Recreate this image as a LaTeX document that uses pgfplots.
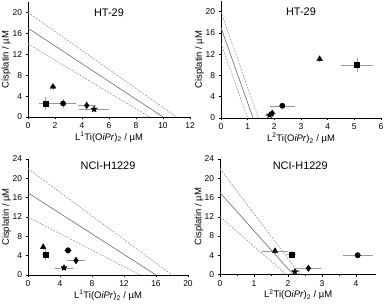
\documentclass[border=0pt]{standalone}
\usepackage{pgfplots}
\pgfplotsset{compat=1.18}
\usepackage{fontspec}
\setmainfont{Liberation Sans}
\pgfdeclareplotmark{fstar}{%
  \pgfpathmoveto{\pgfpointpolar{90}{1.3\pgfplotmarksize}}%
  \pgfpathlineto{\pgfpointpolar{126}{0.55\pgfplotmarksize}}%
  \pgfpathlineto{\pgfpointpolar{162}{1.3\pgfplotmarksize}}%
  \pgfpathlineto{\pgfpointpolar{198}{0.55\pgfplotmarksize}}%
  \pgfpathlineto{\pgfpointpolar{234}{1.3\pgfplotmarksize}}%
  \pgfpathlineto{\pgfpointpolar{270}{0.55\pgfplotmarksize}}%
  \pgfpathlineto{\pgfpointpolar{306}{1.3\pgfplotmarksize}}%
  \pgfpathlineto{\pgfpointpolar{342}{0.55\pgfplotmarksize}}%
  \pgfpathlineto{\pgfpointpolar{18}{1.3\pgfplotmarksize}}%
  \pgfpathlineto{\pgfpointpolar{54}{0.55\pgfplotmarksize}}%
  \pgfpathclose
  \pgfusepathqfillstroke}
\tikzset{ttl/.style={font=\fontsize{11}{12}\selectfont}}
\pgfplotsset{
  iso/.style={
    scale only axis,
    axis lines*=left,
    tick align=outside,
    major tick length=2.5pt,
    minor tick length=1.5pt,
    minor x tick num=1,
    ymin=0, xmin=0,
    tick style={black, line width=0.5pt},
    axis line style={black, line width=0.6pt},
    ticklabel style={font=\fontsize{8.5}{9}\selectfont},
    /pgf/number format/assume math mode=true,
    label style={font=\fontsize{9.5}{10}\selectfont},
    ylabel={Cisplatin / µM},
    ylabel style={at={(axis description cs:-0.135,0.5)},anchor=center},
    xlabel style={at={(axis description cs:0.5,-0.175)},anchor=center},
    clip=false,
  },
  dat/.style={only marks, black, mark size=2.5pt, mark options={solid, fill=black},
    error bars/x dir=both, error bars/x explicit, error bars/y dir=both, error bars/y explicit,
    error bars/error bar style={black!40, line width=0.5pt},
    error bars/error mark options={black!40, mark size=1.4pt, line width=0.5pt}},
  sl/.style={no marks, black!55, line width=0.65pt},
  dl/.style={no marks, black!40, line width=0.65pt, dash pattern=on 1.8pt off 1.4pt},
}
\begin{document}
\begin{tikzpicture}
\useasboundingbox (0,0) rectangle (384bp,304bp);
% Panel 1
\begin{axis}[iso, at={(28bp,187bp)}, anchor=south west, width=162bp, height=115bp,
  xmax=12, ymax=22, xtick={0,2,...,12}, ytick={0,4,...,20},
  xlabel={L\textsuperscript{1}Ti(O\textit{iPr})\textsubscript{2} / µM}]
\addplot[dl] coordinates {(0,20) (11,0)};
\addplot[sl] coordinates {(0,17) (10,0)};
\addplot[dl] coordinates {(0,14) (9,0)};
\addplot[dat, mark=square*] coordinates {(1.3,2.6) +- (0.37,0.9)};
\addplot[dat, mark=*, mark size=2.7pt] coordinates {(2.6,2.6) +- (0.85,0.6)};
\addplot[dat, mark=triangle*, mark size=3.2pt] coordinates {(1.85,5.8) +- (0.1,0.3)};
\addplot[dat, mark=diamond*, mark size=3.2pt] coordinates {(4.35,2.2) +- (0.58,0.5)};
\addplot[dat, mark=fstar] coordinates {(4.9,1.5) +- (1.0,0.3)};
\node[ttl] at (axis cs:6,20) {HT-29};
\end{axis}
% Panel 2
\begin{axis}[iso, at={(221bp,186bp)}, anchor=south west, width=160bp, height=117bp,
  xmax=6, ymax=22, xtick={0,1,...,6}, ytick={0,4,...,20},
  xlabel={L\textsuperscript{2}Ti(O\textit{iPr})\textsubscript{2} / µM}]
\addplot[dl] coordinates {(0,20) (1.4,0)};
\addplot[sl] coordinates {(0,17) (1.2,0)};
\addplot[dl] coordinates {(0,14) (1.0,0)};
\addplot[dat, mark=square*] coordinates {(5.1,10.0) +- (0.55,1.0)};
\addplot[dat, mark=*, mark size=2.7pt] coordinates {(2.3,2.3) +- (0.42,0.3)};
\addplot[dat, mark=triangle*, mark size=3.2pt] coordinates {(3.7,11.1) +- (0.05,0.3)};
\addplot[dat, mark=diamond*, mark size=3.2pt] coordinates {(1.92,0.9) +- (0.08,0.2)};
\addplot[dat, mark=fstar] coordinates {(1.82,0.55) +- (0.12,0.1)};
\node[ttl] at (axis cs:3,20) {HT-29};
\end{axis}
% Panel 3
\begin{axis}[iso, at={(28bp,29bp)}, anchor=south west, width=160bp, height=116bp,
  xmax=20, ymax=24, xtick={0,4,...,20}, ytick={0,4,...,24},
  xlabel={L\textsuperscript{1}Ti(O\textit{iPr})\textsubscript{2} / µM}]
\addplot[dl] coordinates {(0,22) (18,0)};
\addplot[sl] coordinates {(0,17) (16,0)};
\addplot[dl] coordinates {(0,12) (14,0)};
\addplot[dat, mark=square*] coordinates {(2.2,4.3) +- (0.3,1.0)};
\addplot[dat, mark=*, mark size=2.7pt] coordinates {(5.0,5.1) +- (0.3,0.4)};
\addplot[dat, mark=triangle*, mark size=3.2pt] coordinates {(1.9,5.8) +- (0.1,0.3)};
\addplot[dat, mark=diamond*, mark size=3.2pt] coordinates {(6.0,3.0) +- (0.9,0.5)};
\addplot[dat, mark=fstar] coordinates {(4.5,1.5) +- (0.9,0.2)};
\node[ttl] at (axis cs:10,22.6) {NCI-H1229};
\end{axis}
% Panel 4
\begin{axis}[iso, at={(220bp,29.5bp)}, anchor=south west, width=156.4bp, height=115.5bp,
  xmax=4.6, ymax=24, xtick={0,1,...,4}, ytick={0,4,...,24},
  xlabel={L\textsuperscript{2}Ti(O\textit{iPr})\textsubscript{2} / µM}]
\addplot[dl] coordinates {(0,22) (2.35,0)};
\addplot[sl] coordinates {(0,17) (2.15,0)};
\addplot[dl] coordinates {(0,12) (1.95,0)};
\addplot[dat, mark=square*] coordinates {(2.1,4.2) +- (0.1,0.3)};
\addplot[dat, mark=*, mark size=2.7pt] coordinates {(4.05,4.0) +- (0.4,0.3)};
\addplot[dat, mark=triangle*, mark size=3.2pt] coordinates {(1.62,4.9) +- (0.35,0.3)};
\addplot[dat, mark=diamond*, mark size=3.2pt] coordinates {(2.6,1.3) +- (0.33,0.3)};
\addplot[dat, mark=fstar] coordinates {(2.2,0.6) +- (0.1,0.2)};
\node[ttl] at (axis cs:2.36,22.6) {NCI-H1229};
\end{axis}
\end{tikzpicture}
\end{document}
